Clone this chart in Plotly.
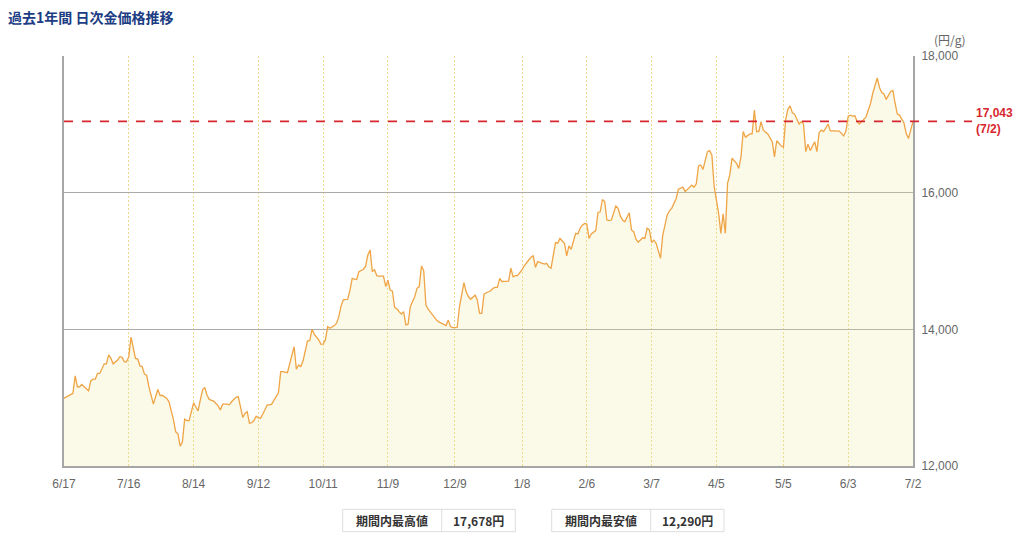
import datetime as dt
import plotly.graph_objects as go

# ---------------- data ----------------
start_date = "2024-06-17"
day_offset = [
    0, 1, 3, 4, 5, 6, 7, 8, 9, 11, 12, 13, 14, 15, 16, 18, 19, 20, 21, 22, 24, 25, 26, 27, 28, 29, 30,
    32, 33, 34, 35, 36, 37, 38, 40, 41, 42, 43, 44, 46, 47, 49, 50, 51, 52, 53, 54, 55, 56, 58, 59, 60,
    61, 62, 63, 64, 65, 67, 68, 69, 70, 71, 73, 74, 75, 76, 77, 78, 79, 80, 81, 82, 83, 84, 85, 86, 87,
    88, 89, 90, 91, 92, 93, 94, 96, 97, 98, 100, 101, 102, 103, 104, 105, 106, 107, 109, 110, 111, 112,
    114, 115, 116, 117, 118, 119, 121, 122, 123, 124, 125, 127, 128, 129, 130, 131, 132, 134, 135, 136,
    137, 138, 139, 140, 141, 143, 144, 145, 146, 147, 148, 149, 150, 151, 152, 153, 154, 155, 157, 158,
    159, 160, 161, 162, 163, 165, 166, 167, 168, 170, 171, 172, 173, 174, 176, 177, 178, 179, 180, 181,
    182, 184, 185, 186, 187, 188, 189, 191, 192, 193, 194, 195, 196, 197, 199, 200, 201, 202, 203, 205,
    206, 208, 209, 210, 211, 212, 213, 215, 216, 217, 218, 219, 220, 221, 222, 224, 225, 226, 227, 228,
    229, 230, 231, 232, 233, 234, 235, 236, 238, 239, 240, 241, 242, 243, 244, 245, 247, 248, 249, 250,
    251, 253, 254, 255, 256, 257, 258, 259, 260, 261, 262, 263, 264, 265, 267, 268, 270, 271, 272, 274,
    275, 276, 277, 278, 280, 281, 282, 283, 284, 285, 286, 288, 289, 290, 291, 293, 294, 295, 296, 297,
    298, 299, 301, 302, 303, 304, 305, 307, 308, 309, 310, 311, 312, 313, 315, 316, 317, 318, 319, 321,
    322, 323, 324, 325, 326, 327, 329, 330, 331, 332, 333, 334, 336, 337, 338, 339, 340, 342, 343, 344,
    345, 346, 347, 349, 350, 351, 352, 353, 354, 355, 356, 357, 359, 360, 361, 362, 363, 364, 365, 366,
    367, 368, 370, 371, 372, 373, 374, 376, 377, 378, 379, 380,
]
price = [
    12990, 13010, 13050, 13065, 13320, 13160, 13160, 13195, 13160, 13100, 13245, 13270, 13270, 13355,
    13355, 13495, 13495, 13625, 13575, 13495, 13550, 13600, 13590, 13525, 13525, 13600, 13885,
    13575, 13565, 13465, 13455, 13345, 13330, 13160, 12905, 13030, 13120, 13030, 13035, 12990, 12940,
    12675, 12500, 12470, 12290, 12355, 12685, 12665, 12665, 12925, 12870, 12805,
    12965, 13110, 13150, 13040, 12975, 12950, 12915, 12880, 12820, 12905, 12905, 12895, 12940, 12980,
    13005, 13015, 12870, 12710, 12770, 12795, 12625, 12635, 12665, 12730, 12705,
    12700, 12760, 12835, 12895, 12895, 12905, 12965, 13075, 13380, 13380, 13365, 13505, 13610, 13745,
    13415, 13480, 13455, 13540, 13830, 13835, 14000, 13930,
    13845, 13780, 13785, 13845, 14040, 14015, 14055, 14090, 14185, 14340, 14430, 14440, 14575, 14745,
    14735, 14730, 14845, 14880, 14925, 15090,
    15160, 14845, 14870, 14785, 14780, 14780, 14625, 14720, 14575, 14560, 14320, 14300, 14260, 14225,
    14260, 14065, 14075, 14330, 14480, 14600,
    14625, 14925, 14860, 14355, 14295, 14210, 14150, 14125, 14105, 14065, 14055, 14135, 14040, 14025,
    14030, 14330, 14535, 14685, 14550, 14480,
    14440, 14500, 14430, 14235, 14235, 14515, 14535, 14565, 14600, 14615, 14615, 14745, 14700, 14705,
    14705, 14895, 14770, 14785, 14785, 14870,
    14930, 15015, 15055, 15075, 14905, 14990, 14975, 14955, 14965, 14915, 14895, 15110, 15270, 15260,
    15330, 15260, 15075, 15220, 15170, 15285,
    15405, 15395, 15480, 15525, 15550, 15540, 15330, 15395, 15445, 15710, 15720, 15900, 15870, 15600,
    15590, 15600, 15805, 15770, 15660, 15600,
    15575, 15705, 15455, 15430, 15320, 15275, 15305, 15340, 15330, 15480, 15455, 15270, 15305, 15260,
    15040, 15380, 15675, 15735, 15770, 15915,
    16050, 16065, 16080, 16015, 16080, 16110, 16080, 16130, 16390, 16405, 16340, 16600, 16615, 16550,
    16090, 15700, 15405, 15690, 15405, 16135,
    16260, 16505, 16430, 16355, 16525, 16895, 16810, 16860, 16860, 17210, 16895, 16895, 17040, 16915,
    16860, 16810, 16745, 16525, 16760, 16685,
    16665, 17065, 17220, 17270, 17170, 17150, 17005, 17040, 17005, 16600, 16710, 16615, 16745, 16600,
    16880, 16915, 16895, 17005, 16905, 16905,
    16905, 16895, 16900, 16830, 16905, 17120, 17135, 17120, 17125, 17040, 17005, 17040, 17110, 17210,
    17305, 17455, 17550, 17678, 17540, 17465,
    17445, 17365, 17480, 17495, 17305, 17150, 17135, 17015, 16860, 16795, 16920, 17043,
]
tick_dates = ["2024-06-17", "2024-07-16", "2024-08-14", "2024-09-12", "2024-10-11", "2024-11-09",
              "2024-12-09", "2025-01-08", "2025-02-06", "2025-03-07", "2025-04-05", "2025-05-05",
              "2025-06-03", "2025-07-02"]
tick_labels = ["6/17", "7/16", "8/14", "9/12", "10/11", "11/9", "12/9", "1/8", "2/6", "3/7",
               "4/5", "5/5", "6/3", "7/2"]
y_ticks = [12000, 14000, 16000, 18000]
y_range = [12000, 18000]

title_text = "過去1年間 日次金価格推移"
unit_text = "(円/g)"
high_label = "期間内最高値"
low_label = "期間内最安値"

# ---------------- derived ----------------
d0 = dt.date.fromisoformat(start_date)
dates = [(d0 + dt.timedelta(days=d)).isoformat() for d in day_offset]
last_price = price[-1]
last_label = tick_labels[-1]
high_val = max(price)
low_val = min(price)

# ---------------- layout helpers (page pixel -> paper) ----------------
OFF = 8                      # page body margin in the exported html
W, H = 1024 - OFF, 543 - OFF
PL, PR, PT, PB = 64, 913, 56, 466   # plot area on the page
L, R, T, B = PL - OFF, W - (PR - OFF), PT - OFF, H - (PB - OFF)
PW, PH = PR - PL, PB - PT


def px(x):
    return (x - PL) / PW


def py(y):
    return (PB - y) / PH


LINE_C = "#efa445"
FILL_C = "rgba(235,225,140,0.2)"   # translucent so grid lines show through
RED = "#d8262e"
GRAY_TXT = "#666666"
FONT = "Liberation Sans, Arial, Noto Sans CJK JP, sans-serif"
JP_FONT = "Noto Sans CJK JP, sans-serif"

fig = go.Figure()
fig.add_trace(go.Scatter(
    x=dates, y=price, mode="lines",
    line=dict(color=LINE_C, width=1.3),
    fill="tozeroy", fillcolor=FILL_C,
    hoverinfo="skip", showlegend=False,
))

shapes = []
shapes.append(dict(type="line", xref="paper", yref="y", x0=0, x1=px(972),
                   y0=last_price, y1=last_price,
                   line=dict(color=RED, width=1.6, dash="dash"), layer="above"))

boxes = [
    (342.7, 441.7, 515.3, high_label, high_val),
    (551.7, 650.7, 724.0, low_label, low_val),
]
annotations = []
for x0, xm, x1, lab, val in boxes:
    shapes.append(dict(type="rect", xref="paper", yref="paper",
                       x0=px(x0), x1=px(x1), y0=py(531.7), y1=py(509.3),
                       line=dict(color="#dddddd", width=1), fillcolor="white"))
    shapes.append(dict(type="line", xref="paper", yref="paper",
                       x0=px(xm), x1=px(xm), y0=py(531.7), y1=py(509.3),
                       line=dict(color="#dddddd", width=1)))
    annotations.append(dict(xref="paper", yref="paper", x=px((x0 + xm) / 2), y=py(520.5),
                            text=lab, showarrow=False, xanchor="center", yanchor="middle",
                            font=dict(family=JP_FONT, size=12, color="#333333", weight="bold")))
    annotations.append(dict(xref="paper", yref="paper", x=px((xm + x1) / 2), y=py(520.5),
                            text=f"{val:,}円", showarrow=False, xanchor="center", yanchor="middle",
                            font=dict(family=JP_FONT, size=12, color="#333333", weight="bold")))

annotations.append(dict(xref="paper", yref="y", x=px(974), y=last_price,
                        text=f"<b>{last_price:,}</b><br><b>({last_label})</b>",
                        showarrow=False, xanchor="left", yanchor="middle", align="left",
                        font=dict(family=FONT, size=12, color=RED)))
annotations.append(dict(xref="paper", yref="paper", x=px(950), y=py(40),
                        text=unit_text, showarrow=False, xanchor="center", yanchor="middle",
                        font=dict(family=JP_FONT, size=12, color=GRAY_TXT)))

fig.update_layout(
    width=W, height=H, autosize=False,
    margin=dict(l=L, r=R, t=T, b=B, pad=0),
    paper_bgcolor="white", plot_bgcolor="white",
    title=dict(text=f"<b>{title_text}</b>", xref="container", yref="container",
               x=0, xanchor="left", y=1 - (18 - OFF) / H, yanchor="middle",
               font=dict(family=JP_FONT, size=14, color="#1c3d84")),
    shapes=shapes, annotations=annotations,
    hovermode=False,
    xaxis=dict(
        type="date", range=[tick_dates[0], tick_dates[-1]],
        tickmode="array", tickvals=tick_dates, ticktext=tick_labels,
        showgrid=True, gridcolor="#f0d98f", griddash="2px,2px", gridwidth=1,
        showline=True, linecolor="#a6a6a6", linewidth=2, mirror=False,
        ticks="", ticklabelstandoff=6,
        tickfont=dict(family=FONT, size=12, color=GRAY_TXT),
        zeroline=False, fixedrange=True,
    ),
    yaxis=dict(
        range=y_range, side="right",
        tickmode="array", tickvals=y_ticks, tickformat=",",
        showgrid=True, gridcolor="#aaaaaa", gridwidth=1.2,
        showline=True, linecolor="#a6a6a6", linewidth=2, mirror=True,
        ticks="", ticklabelstandoff=4,
        tickfont=dict(family=FONT, size=12, color=GRAY_TXT),
        zeroline=False, fixedrange=True,
    ),
)

fig.write_html("out.html")
